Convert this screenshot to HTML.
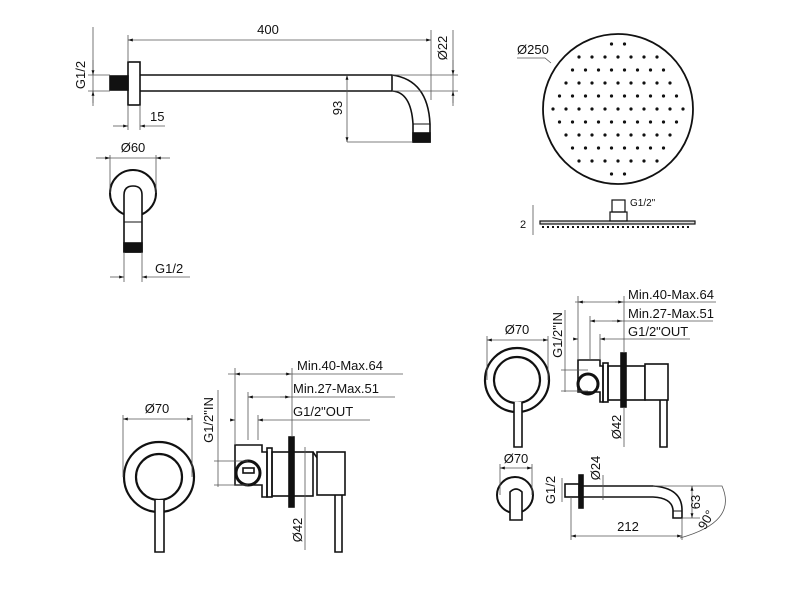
<!DOCTYPE html>
<html><head><meta charset="utf-8"><style>
html,body{margin:0;padding:0;background:#fff;}
svg{display:block;}
text{font-family:"Liberation Sans",sans-serif;font-size:13px;fill:#111;}
</style></head><body>
<svg id="s" width="800" height="600" viewBox="0 0 800 600" xmlns="http://www.w3.org/2000/svg">
<defs>
<marker id="a" viewBox="0 0 10 10" refX="10" refY="5" markerWidth="6" markerHeight="6" orient="auto-start-reverse"><path d="M0,2 L10,5 L0,8z" fill="#111"/></marker>
</defs>
<g stroke="#111" fill="none" stroke-width="1.6">
<rect x="128" y="62" width="12" height="43"/>
<rect x="110" y="76" width="18" height="14" fill="#111"/>
<path d="M140,75 H392 Q428,80 430,124 V142 H413 V124 Q411,92 392,91 H140"/>
<line x1="392" y1="75" x2="392" y2="91"/>
<line x1="413" y1="124" x2="430" y2="124" stroke-width="1"/>
<rect x="413" y="133" width="17" height="9" fill="#111"/>
<circle cx="133" cy="193" r="23" stroke-width="2"/>
<path d="M124,252 V195 Q124,186 133,186 Q142,186 142,195 V252 Z" fill="#fff"/>
<line x1="124" y1="222" x2="142" y2="222" stroke-width="1"/>
<rect x="124" y="243" width="18" height="9" fill="#111"/>
</g>
<g stroke="#555" stroke-width="0.8" fill="none">
<line x1="128" y1="35" x2="128" y2="62"/><line x1="431" y1="30" x2="431" y2="100"/>
<line x1="128" y1="40" x2="431" y2="40" marker-start="url(#a)" marker-end="url(#a)"/>
<line x1="93" y1="27" x2="93" y2="103"/>
<line x1="88" y1="75" x2="110" y2="75"/><line x1="88" y1="91" x2="110" y2="91"/>
<line x1="93" y1="60" x2="93" y2="75" marker-end="url(#a)"/><line x1="93" y1="106" x2="93" y2="91" marker-end="url(#a)"/>
<line x1="128" y1="105" x2="128" y2="130"/><line x1="140" y1="105" x2="140" y2="130"/>
<line x1="113" y1="126" x2="128" y2="126" marker-end="url(#a)"/><line x1="165" y1="126" x2="140" y2="126" marker-end="url(#a)"/>
<line x1="347" y1="75" x2="347" y2="142" marker-start="url(#a)" marker-end="url(#a)"/>
<line x1="347" y1="142" x2="413" y2="142"/>
<line x1="392" y1="75" x2="458" y2="75"/><line x1="392" y1="91" x2="458" y2="91"/>
<line x1="453" y1="30" x2="453" y2="103"/>
<line x1="453" y1="60" x2="453" y2="75" marker-end="url(#a)"/><line x1="453" y1="106" x2="453" y2="91" marker-end="url(#a)"/>
<line x1="110" y1="155" x2="110" y2="193"/><line x1="156" y1="155" x2="156" y2="193"/>
<line x1="96" y1="158" x2="110" y2="158" marker-end="url(#a)"/><line x1="170" y1="158" x2="156" y2="158" marker-end="url(#a)"/>
<line x1="110" y1="158" x2="156" y2="158"/>
<line x1="124" y1="252" x2="124" y2="282"/><line x1="142" y1="252" x2="142" y2="282"/>
<line x1="110" y1="277" x2="124" y2="277" marker-end="url(#a)"/><line x1="190" y1="277" x2="142" y2="277" marker-end="url(#a)"/>
</g>
<text x="268" y="34" text-anchor="middle">400</text>
<text x="150" y="121">15</text>
<text x="133" y="152" text-anchor="middle">Ø60</text>
<text x="155" y="273">G1/2</text>
<text transform="translate(85,75) rotate(-90)" text-anchor="middle">G1/2</text>
<text transform="translate(342,108) rotate(-90)" text-anchor="middle">93</text>
<text transform="translate(447,48) rotate(-90)" text-anchor="middle">Ø22</text>

<circle cx="618" cy="109" r="75" stroke="#111" stroke-width="1.8" fill="none"/>
<g id="dots" fill="#111"></g>
<text x="517" y="54">Ø250</text>
<polyline points="517,58 545,58 551,63" stroke="#555" stroke-width="0.8" fill="none"/>
<g stroke="#111" stroke-width="1.2" fill="none">
<rect x="540" y="221" width="155" height="3" fill="#ddd"/>
<line x1="542" y1="227" x2="692" y2="227" stroke-dasharray="2,3" stroke-width="2"/>
<rect x="610" y="212" width="17" height="9"/>
<rect x="612" y="200" width="13" height="12"/>
</g>
<text x="630" y="206" style="font-size:10px">G1/2"</text>
<text x="520" y="228" style="font-size:11px">2</text>
<line x1="533" y1="205" x2="533" y2="235" stroke="#555" stroke-width="0.8"/>

<g stroke="#111" stroke-width="1.6" fill="none">
<circle cx="159" cy="477" r="35" stroke-width="2.2"/><circle cx="159" cy="477" r="23" stroke-width="2.2"/>
<path d="M155,500 V552 H164 V500" fill="#fff"/>
<path d="M235,445 H262 V452 H267 V497 H262 V485 H235 Z"/>
<circle cx="248" cy="473" r="12" stroke-width="3"/>
<rect x="243" y="468" width="11" height="5"/>
<rect x="267" y="448" width="5" height="49"/>
<rect x="272" y="452" width="41" height="44"/>
<rect x="289" y="437" width="5" height="70" fill="#111"/>
<path d="M313,452 L320,462"/>
<rect x="317" y="452" width="28" height="43" fill="#fff"/>
<path d="M335,495 V552 H342 V495"/>
</g>
<g stroke="#555" stroke-width="0.8" fill="none">
<line x1="123" y1="415" x2="123" y2="477"/><line x1="192" y1="415" x2="192" y2="477"/>
<line x1="123" y1="419" x2="192" y2="419" marker-start="url(#a)" marker-end="url(#a)"/>
<line x1="228" y1="374" x2="403" y2="374"/>
<line x1="240" y1="374" x2="235" y2="374" marker-end="url(#a)"/><line x1="285" y1="374" x2="291" y2="374" marker-end="url(#a)"/>
<line x1="248" y1="397" x2="395" y2="397" marker-start="url(#a)"/><line x1="280" y1="397" x2="290" y2="397" marker-end="url(#a)"/>
<line x1="230" y1="420" x2="235" y2="420" marker-end="url(#a)"/><line x1="370" y1="420" x2="258" y2="420" marker-end="url(#a)"/>
<line x1="235" y1="368" x2="235" y2="445"/><line x1="292" y1="368" x2="292" y2="437"/>
<line x1="248" y1="392" x2="248" y2="440"/><line x1="258" y1="415" x2="258" y2="440"/>
<line x1="218" y1="390" x2="218" y2="487"/>
<line x1="214" y1="461" x2="248" y2="461"/><line x1="214" y1="485" x2="248" y2="485"/>
<line x1="305" y1="447" x2="305" y2="550"/>
</g>
<text x="157" y="413" text-anchor="middle">Ø70</text>
<text x="297" y="370">Min.40-Max.64</text>
<text x="293" y="393">Min.27-Max.51</text>
<text x="293" y="416">G1/2"OUT</text>
<text transform="translate(213,420) rotate(-90)" text-anchor="middle">G1/2"IN</text>
<text transform="translate(302,530) rotate(-90)" text-anchor="middle">Ø42</text>

<g stroke="#111" stroke-width="1.6" fill="none">
<circle cx="517" cy="380" r="32" stroke-width="2.2"/><circle cx="517" cy="380" r="23" stroke-width="2.2"/>
<path d="M514,402 V447 H522 V402" fill="#fff"/>
<path d="M578,360 H600 V366 H603 V402 H600 V392 H578 Z"/>
<circle cx="588" cy="384" r="10" stroke-width="3"/>
<rect x="603" y="363" width="5" height="39"/>
<rect x="608" y="366" width="37" height="34"/>
<rect x="621" y="353" width="5" height="54" fill="#111"/>
<rect x="645" y="364" width="23" height="36" fill="#fff"/>
<path d="M660,400 V447 H667 V400"/>
<circle cx="515" cy="495" r="18" stroke-width="2"/>
<path d="M510,520 V492 Q516,486 522,492 V520 Z" fill="#fff"/>
<rect x="565" y="484" width="14" height="13"/>
<rect x="579" y="475" width="4" height="33" fill="#111"/>
<path d="M583,486 H653 Q682,488 682,510 V518 H673 V510 Q672,498 653,497 H583"/>
<line x1="673" y1="511" x2="682" y2="511" stroke-width="1"/>
</g>
<g stroke="#555" stroke-width="0.8" fill="none">
<line x1="487" y1="336" x2="487" y2="380"/><line x1="548" y1="336" x2="548" y2="380"/>
<line x1="487" y1="340" x2="548" y2="340" marker-start="url(#a)" marker-end="url(#a)"/>
<line x1="575" y1="302" x2="716" y2="302"/>
<line x1="585" y1="302" x2="578" y2="302" marker-end="url(#a)"/><line x1="615" y1="302" x2="623" y2="302" marker-end="url(#a)"/>
<line x1="590" y1="321" x2="713" y2="321" marker-start="url(#a)"/><line x1="612" y1="321" x2="622" y2="321" marker-end="url(#a)"/>
<line x1="574" y1="339" x2="578" y2="339" marker-end="url(#a)"/><line x1="690" y1="339" x2="600" y2="339" marker-end="url(#a)"/>
<line x1="578" y1="296" x2="578" y2="360"/><line x1="624" y1="296" x2="624" y2="353"/>
<line x1="590" y1="316" x2="590" y2="360"/><line x1="600" y1="334" x2="600" y2="360"/>
<line x1="565" y1="310" x2="565" y2="392"/>
<line x1="561" y1="370" x2="588" y2="370"/><line x1="561" y1="391" x2="588" y2="391"/>
<line x1="624" y1="407" x2="624" y2="447"/>
<line x1="500" y1="464" x2="500" y2="495"/><line x1="532" y1="464" x2="532" y2="495"/>
<line x1="500" y1="468" x2="532" y2="468" marker-start="url(#a)" marker-end="url(#a)"/>
<line x1="603" y1="475" x2="603" y2="500"/>
<line x1="562" y1="478" x2="562" y2="502"/>
<line x1="653" y1="486" x2="700" y2="486"/><line x1="682" y1="518" x2="700" y2="518"/>
<line x1="692" y1="486" x2="692" y2="518" marker-start="url(#a)" marker-end="url(#a)"/>
<path d="M700,486 H722 Q738,522 680,538"/>
<line x1="571" y1="497" x2="571" y2="540"/><line x1="682" y1="518" x2="682" y2="540"/>
<line x1="571" y1="536" x2="682" y2="536" marker-start="url(#a)" marker-end="url(#a)"/>
</g>
<text x="517" y="334" text-anchor="middle">Ø70</text>
<text x="628" y="299">Min.40-Max.64</text>
<text x="628" y="318">Min.27-Max.51</text>
<text x="628" y="336">G1/2"OUT</text>
<text transform="translate(562,335) rotate(-90)" text-anchor="middle">G1/2"IN</text>
<text transform="translate(621,427) rotate(-90)" text-anchor="middle">Ø42</text>
<text x="516" y="463" text-anchor="middle">Ø70</text>
<text transform="translate(600,468) rotate(-90)" text-anchor="middle">Ø24</text>
<text transform="translate(555,490) rotate(-90)" text-anchor="middle">G1/2</text>
<text transform="translate(700,502) rotate(-90)" text-anchor="middle">63</text>
<text x="628" y="531" text-anchor="middle">212</text>
<text transform="translate(710,522) rotate(-60)" text-anchor="middle">90°</text>
</svg>
<script>
var g=document.getElementById('dots'),ns='http://www.w3.org/2000/svg';
for(var row=-5;row<=5;row++){var y=109+row*13;var off=(row%2)?6.5:0;
for(var col=-6;col<=6;col++){var x=618+col*13+off;var dx=x-618,dy=y-109;
if(dx*dx+dy*dy<=66*66){var c=document.createElementNS(ns,'circle');c.setAttribute('cx',x);c.setAttribute('cy',y);c.setAttribute('r','1.6');g.appendChild(c);}}}
</script>
</body></html>
